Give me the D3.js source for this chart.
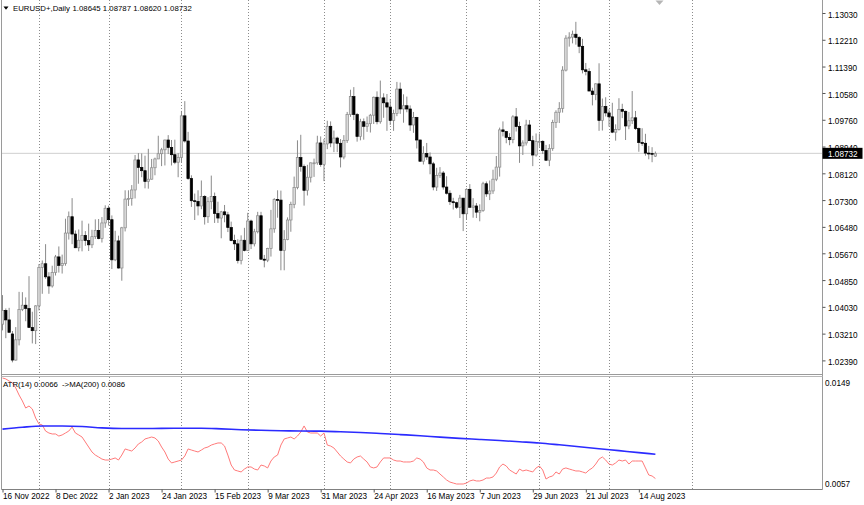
<!DOCTYPE html>
<html><head><meta charset="utf-8">
<script src="https://cdn.jsdelivr.net/npm/d3@7/dist/d3.min.js"></script>
<style>
body{margin:0;background:#fff}
svg{display:block}
text{font-family:"Liberation Sans",Arial,sans-serif;fill:#000}
</style>
</head><body>
<svg id="c" width="864" height="505"></svg>
<script>
// ---------------- DATA ----------------
const symbolTitle = "EURUSD+,Daily";
const lastQuote = ["1.08645", "1.08787", "1.08620", "1.08732"];
const bidPrice = 1.08732;

// daily bars, 16 Nov 2022 .. 21 Aug 2023 (one row per month)
const opens = [
  1.0350,1.0392,1.0363,1.0320,1.0240,1.0302,1.0395,1.0408,1.0398,1.0340,1.0330,
  1.0406,1.0524,1.0535,1.0495,1.0467,1.0508,1.0556,1.0530,1.0536,1.0629,1.0679,1.0626,1.0584,1.0607,1.0622,1.0606,1.0593,1.0618,1.0637,1.0612,1.0660,
  1.0705,1.0670,1.0547,1.0605,1.0522,1.0645,1.0733,1.0735,1.0761,1.0853,1.0830,1.0820,1.0787,1.0794,1.0829,1.0856,1.0872,1.0884,1.0914,1.0891,1.0869,1.0846,
  1.0861,1.0988,1.0911,1.0796,1.0728,1.0726,1.0712,1.0741,1.0679,1.0725,1.0741,1.0689,1.0675,1.0694,1.0685,1.0646,1.0606,1.0596,1.0545,1.0607,
  1.0576,1.0666,1.0596,1.0633,1.0682,1.0549,1.0546,1.0582,1.0642,1.0732,1.0730,1.0576,1.0609,1.0669,1.0717,1.0769,1.0860,1.0833,1.0760,1.0800,1.0844,1.0844,1.0905,
  1.0839,1.0902,1.0956,1.0905,1.0920,1.0904,1.0862,1.0913,1.0992,1.1047,1.0992,1.0925,1.0970,1.0956,1.0964,1.0990,1.1045,1.0970,1.1043,1.1028,
  1.1015,1.0974,1.0995,1.1070,1.1009,1.1019,1.1009,1.0960,1.0983,1.0914,1.0849,1.0873,1.0862,1.0841,1.0770,1.0805,1.0813,1.0770,1.0751,1.0725,1.0722,1.0708,1.0736,
  1.0688,1.0763,1.0708,1.0712,1.0693,1.0698,1.0780,1.0749,1.0758,1.0794,1.0831,1.0945,1.0940,1.0922,1.0915,1.0985,1.0955,1.0896,1.0905,1.0960,1.0912,1.0868,
  1.0910,1.0910,1.0882,1.0852,1.0888,1.0968,1.0999,1.1011,1.1128,1.1226,1.1229,1.1238,1.1228,1.1201,1.1129,1.1124,1.1064,1.1053,1.1086,1.0974,1.1017,
  1.0997,1.0985,1.0938,1.0946,1.1008,1.1002,1.0957,1.0973,1.0982,1.0949,1.0906,1.0904,1.0874,1.0873,1.08645
];
const highs = [
  1.0439,1.0398,1.0400,1.0329,1.0341,1.0449,1.0448,1.0432,1.0497,1.0388,1.0408,
  1.0534,1.0545,1.0595,1.0509,1.0529,1.0562,1.0588,1.0563,1.0673,1.0695,1.0736,1.0637,1.0640,1.0667,1.0635,1.0658,1.0639,1.0671,1.0672,1.0678,1.0714,
  1.0713,1.0683,1.0636,1.0621,1.0648,1.0760,1.0760,1.0776,1.0868,1.0874,1.0873,1.0866,1.0887,1.0856,1.0860,1.0927,1.0890,1.0915,1.0929,1.0914,1.0915,1.0874,
  1.1003,1.1033,1.0939,1.0806,1.0750,1.0760,1.0790,1.0745,1.0739,1.0805,1.0753,1.0725,1.0697,1.0715,1.0694,1.0664,1.0624,1.0610,1.0622,1.0645,
  1.0691,1.0670,1.0642,1.0694,1.0694,1.0562,1.0584,1.0700,1.0736,1.0760,1.0759,1.0638,1.0677,1.0725,1.0802,1.0913,1.0930,1.0839,1.0838,1.0845,1.0857,1.0927,1.0925,
  1.0917,1.0973,1.0971,1.0943,1.0924,1.0917,1.0929,1.1000,1.1068,1.1076,1.0997,1.0979,1.0980,1.0986,1.0994,1.1047,1.1063,1.1096,1.1057,1.1055,
  1.1040,1.1007,1.1092,1.1090,1.1054,1.1047,1.1020,1.1000,1.0985,1.0915,1.0895,1.0905,1.0876,1.0847,1.0829,1.0831,1.0819,1.0803,1.0760,1.0737,1.0725,1.0746,1.0736,
  1.0766,1.0779,1.0736,1.0721,1.0717,1.0786,1.0787,1.0790,1.0823,1.0865,1.0952,1.0971,1.0942,1.0935,1.0990,1.1012,1.0970,1.0913,1.0976,1.0975,1.0927,1.0934,
  1.0934,1.0913,1.0899,1.0901,1.0976,1.1005,1.1030,1.1140,1.1235,1.1244,1.1249,1.1276,1.1232,1.1224,1.1150,1.1134,1.1074,1.1088,1.1149,1.1041,1.1045,
  1.1008,1.1028,1.0962,1.1042,1.1025,1.1004,1.1000,1.1064,1.1003,1.0952,1.0950,1.0933,1.0896,1.0892,1.08787
];
const lows = [
  1.0331,1.0307,1.0326,1.0233,1.0238,1.0285,1.0390,1.0359,1.0339,1.0291,1.0289,
  1.0392,1.0443,1.0489,1.0443,1.0462,1.0499,1.0508,1.0505,1.0529,1.0609,1.0595,1.0583,1.0573,1.0573,1.0590,1.0574,1.0583,1.0611,1.0610,1.0600,1.0645,
  1.0652,1.0519,1.0543,1.0520,1.0483,1.0634,1.0712,1.0713,1.0735,1.0780,1.0800,1.0766,1.0765,1.0793,1.0806,1.0856,1.0834,1.0836,1.0871,1.0836,1.0840,1.0800,
  1.0845,1.0906,1.0792,1.0709,1.0669,1.0683,1.0702,1.0655,1.0660,1.0702,1.0660,1.0660,1.0613,1.0662,1.0632,1.0604,1.0577,1.0536,1.0533,1.0573,
  1.0574,1.0580,1.0588,1.0628,1.0547,1.0524,1.0540,1.0557,1.0630,1.0676,1.0515,1.0515,1.0607,1.0633,1.0705,1.0763,1.0817,1.0713,1.0744,1.0784,1.0801,1.0838,1.0832,
  1.0788,1.0886,1.0892,1.0877,1.0877,1.0830,1.0855,1.0905,1.0985,1.0975,1.0909,1.0913,1.0915,1.0939,1.0937,1.0963,1.0962,1.0964,1.0982,1.0942,
  1.0960,1.0942,1.0987,1.0994,1.0967,1.0999,1.0942,1.0936,1.0888,1.0848,1.0839,1.0853,1.0809,1.0760,1.0758,1.0798,1.0762,1.0747,1.0715,1.0701,1.0703,1.0675,1.0635,
  1.0671,1.0706,1.0676,1.0675,1.0665,1.0694,1.0740,1.0730,1.0749,1.0788,1.0802,1.0925,1.0904,1.0898,1.0904,1.0940,1.0844,1.0868,1.0897,1.0911,1.0834,1.0863,
  1.0893,1.0871,1.0851,1.0834,1.0881,1.0951,1.0966,1.0998,1.1124,1.1200,1.1210,1.1206,1.1180,1.1118,1.1112,1.1064,1.1020,1.1036,1.0942,1.0943,1.0986,
  1.0955,1.0935,1.0912,1.0943,1.0981,1.0914,1.0947,1.0963,1.0945,1.0878,1.0896,1.0866,1.0855,1.0846,1.08620
];
const closes = [
  1.0392,1.0363,1.0325,1.0240,1.0302,1.0395,1.0408,1.0398,1.0340,1.0330,1.0406,
  1.0524,1.0535,1.0495,1.0467,1.0508,1.0556,1.0530,1.0536,1.0629,1.0679,1.0626,1.0584,1.0607,1.0622,1.0606,1.0593,1.0618,1.0637,1.0612,1.0660,1.0705,
  1.0670,1.0547,1.0605,1.0522,1.0645,1.0733,1.0735,1.0761,1.0853,1.0830,1.0820,1.0787,1.0794,1.0829,1.0856,1.0872,1.0884,1.0914,1.0891,1.0869,1.0846,1.0861,
  1.0988,1.0911,1.0796,1.0728,1.0726,1.0712,1.0741,1.0679,1.0725,1.0741,1.0689,1.0675,1.0694,1.0685,1.0646,1.0606,1.0596,1.0545,1.0607,1.0576,
  1.0666,1.0596,1.0633,1.0682,1.0549,1.0546,1.0582,1.0642,1.0732,1.0730,1.0576,1.0609,1.0669,1.0717,1.0769,1.0860,1.0833,1.0760,1.0800,1.0844,1.0844,1.0905,1.0839,
  1.0902,1.0956,1.0905,1.0920,1.0904,1.0862,1.0913,1.0992,1.1047,1.0992,1.0925,1.0970,1.0956,1.0964,1.0990,1.1045,1.0970,1.1043,1.1028,1.1015,
  1.0974,1.0995,1.1070,1.1009,1.1019,1.1009,1.0960,1.0983,1.0914,1.0849,1.0873,1.0862,1.0841,1.0770,1.0805,1.0813,1.0770,1.0751,1.0725,1.0722,1.0708,1.0736,1.0688,
  1.0763,1.0708,1.0712,1.0693,1.0698,1.0780,1.0749,1.0758,1.0794,1.0831,1.0945,1.0940,1.0922,1.0915,1.0985,1.0955,1.0896,1.0905,1.0960,1.0912,1.0868,1.0910,
  1.0910,1.0882,1.0852,1.0888,1.0968,1.0999,1.1011,1.1128,1.1226,1.1229,1.1238,1.1228,1.1201,1.1129,1.1124,1.1064,1.1053,1.1086,1.0974,1.1017,1.0997,
  1.0985,1.0938,1.0946,1.1008,1.1002,1.0957,1.0973,1.0982,1.0949,1.0906,1.0904,1.0874,1.0873,1.0872,1.08732
];

// ATR(14), one value per bar
const atr14 = [
  0.01482,0.01474,0.01457,0.01441,0.01400,0.01342,0.01293,0.01235,0.01252,0.01227,0.01153,
  0.01104,0.01096,0.01046,0.01030,0.01022,0.01022,0.01005,0.01014,0.01030,0.01046,0.01079,0.01030,0.01014,0.00997,0.00956,0.00915,0.00874,0.00849,0.00833,0.00816,0.00808,
  0.00808,0.00816,0.00825,0.00808,0.00849,0.00899,0.00890,0.00882,0.00907,0.00940,0.00956,0.00981,0.00989,0.00997,0.00989,0.00964,0.00915,0.00874,0.00816,0.00784,0.00792,0.00800,
  0.00808,0.00841,0.00899,0.00890,0.00882,0.00874,0.00890,0.00907,0.00915,0.00931,0.00940,0.00948,0.00948,0.00923,0.00849,0.00767,0.00726,0.00718,0.00710,0.00734,
  0.00751,0.00751,0.00734,0.00726,0.00767,0.00759,0.00743,0.00800,0.00833,0.00849,0.00931,0.00981,0.00989,0.00997,0.00981,0.01005,0.01038,0.01088,0.01038,0.01030,0.01030,0.01030,0.01005,
  0.01030,0.00931,0.00923,0.00907,0.00874,0.00841,0.00816,0.00792,0.00784,0.00816,0.00833,0.00841,0.00816,0.00792,0.00751,0.00743,0.00751,0.00792,0.00825,0.00825,
  0.00825,0.00808,0.00800,0.00800,0.00792,0.00792,0.00792,0.00800,0.00825,0.00816,0.00792,0.00743,0.00726,0.00726,0.00718,0.00693,0.00669,0.00644,0.00627,0.00619,0.00611,0.00611,0.00611,
  0.00619,0.00636,0.00644,0.00636,0.00636,0.00644,0.00660,0.00660,0.00669,0.00701,0.00751,0.00775,0.00759,0.00726,0.00710,0.00693,0.00734,0.00718,0.00726,0.00718,0.00710,0.00743,
  0.00759,0.00726,0.00652,0.00669,0.00677,0.00710,0.00693,0.00734,0.00743,0.00734,0.00726,0.00718,0.00718,0.00710,0.00701,0.00726,0.00743,0.00775,0.00816,0.00833,0.00808,
  0.00775,0.00767,0.00784,0.00808,0.00800,0.00808,0.00775,0.00800,0.00800,0.00800,0.00800,0.00743,0.00685,0.00677,0.00656
];

// MA(200) of ATR, read every 6 bars
const maBars = [0,6,12,18,24,30,36,42,48,54,60,66,72,78,84,90,96,102,108,114,120,126,132,138,144,150,156,162,168,174,180,186,192,197];
const ma200  = [0.01062,0.01077,0.01087,0.01087,0.01083,0.01072,0.01067,0.01067,0.01068,0.01069,0.01069,0.01064,0.01057,0.01052,0.01049,0.01046,0.01045,
                0.01040,0.01034,0.01026,0.01017,0.01008,0.00996,0.00986,0.00977,0.00968,0.00958,0.00948,0.00933,0.00917,0.00901,0.00885,0.00869,0.00856];

const priceTicks = [1.13030,1.12210,1.11390,1.10580,1.09760,1.08940,1.08120,1.07300,1.06480,1.05670,1.04850,1.04030,1.03210,1.02390];
const atrScale = [0.0057, 0.0149];
const dateLabels = ["16 Nov 2022","8 Dec 2022","2 Jan 2023","24 Jan 2023","15 Feb 2023","9 Mar 2023","31 Mar 2023",
                    "24 Apr 2023","16 May 2023","7 Jun 2023","29 Jun 2023","21 Jul 2023","14 Aug 2023"];
const dateLabelBars = [0,16,32,48,64,80,96,112,128,144,160,176,192];
// month-start bars (1 Dec ... 1 Aug, and 1 Sep in the empty future area)
const monthStartBars = [11,32,54,74,97,117,140,162,183,208];

// ---------------- LAYOUT ----------------
const svg = d3.select("#c");
const plotL = 1.5, plotR = 822.5;
const mainTop = 0, mainBot = 375, subTop = 377, subBot = 489.5;
const n = closes.length;

const x = d3.scaleLinear().domain([0, n - 1]).range([2.5, 655.4]);
const y = d3.scaleLinear().domain([1.02390, 1.13030]).range([360.4, 13.0]);
const ys = d3.scaleLinear().domain(atrScale).range([489, 377]);

svg.append("rect").attr("width", 864).attr("height", 505).attr("fill", "#fff");

// vertical dotted grid
const grid = svg.append("g").attr("stroke", "#8c8c8c").attr("stroke-width", 1).attr("stroke-dasharray", "1,2");
monthStartBars.forEach(b => {
  const gx = Math.round(x(b)) + 0.5;
  grid.append("line").attr("x1", gx).attr("x2", gx).attr("y1", mainTop).attr("y2", mainBot);
  grid.append("line").attr("x1", gx).attr("x2", gx).attr("y1", subTop).attr("y2", subBot);
});

// bid line
svg.append("line").attr("x1", plotL).attr("x2", plotR)
  .attr("y1", y(bidPrice)).attr("y2", y(bidPrice))
  .attr("stroke", "#cfcfcf").attr("stroke-width", 1);

// candles
const idx = d3.range(n);
const cg = svg.append("g");
cg.selectAll("line.wick").data(idx).join("line").attr("class", "wick")
  .attr("x1", i => x(i)).attr("x2", i => x(i))
  .attr("y1", i => y(highs[i])).attr("y2", i => y(lows[i]))
  .attr("stroke", "#8a8a8a").attr("stroke-width", 1);
const bw = 2.4;
cg.selectAll("rect.body").data(idx).join("rect").attr("class", "body")
  .attr("x", i => x(i) - bw / 2).attr("width", bw)
  .attr("y", i => Math.min(y(opens[i]), y(closes[i])))
  .attr("height", i => Math.max(0.9, Math.abs(y(opens[i]) - y(closes[i]))))
  .attr("fill", i => closes[i] >= opens[i] ? "#dadada" : "#000")
  .attr("stroke", i => closes[i] >= opens[i] ? "#8a8a8a" : "#000")
  .attr("stroke-width", 0.7);

// frames
const frame = svg.append("g").attr("stroke", "#9a9a9a").attr("stroke-width", 1).attr("fill", "none");
frame.append("line").attr("x1", plotL).attr("x2", plotL).attr("y1", 0).attr("y2", subBot);
frame.append("line").attr("x1", plotR).attr("x2", plotR).attr("y1", 0).attr("y2", subBot);
frame.append("line").attr("x1", plotL).attr("x2", plotR).attr("y1", 374.5).attr("y2", 374.5);
frame.append("line").attr("x1", plotL).attr("x2", plotR).attr("y1", 376.5).attr("y2", 376.5).attr("stroke", "#b8b8b8");
frame.append("line").attr("x1", plotL).attr("x2", plotR).attr("y1", subBot).attr("y2", subBot).attr("stroke", "#808080");

// price axis (right)
const fs = 8.2;
const pa = svg.append("g").attr("transform", `translate(${plotR},0)`)
  .call(d3.axisRight(y).tickValues(priceTicks).tickSize(3).tickPadding(2.5).tickFormat(d3.format(".5f")));
pa.select(".domain").remove();
pa.selectAll("line").attr("stroke", "#555");
pa.selectAll("text").attr("font-size", fs).attr("font-family", "Liberation Sans, Arial, sans-serif").attr("dy", "0.5em");

// current price box
svg.append("rect").attr("x", plotR).attr("y", y(bidPrice) - 5.5).attr("width", 40).attr("height", 11).attr("fill", "#000");
svg.append("text").attr("x", 828).attr("y", y(bidPrice) + 3.2).attr("font-size", fs)
  .style("fill", "#fff").text(d3.format(".5f")(bidPrice));

// date axis (bottom)
const da = svg.append("g").attr("transform", `translate(0,${subBot})`)
  .call(d3.axisBottom(x).tickValues(dateLabelBars).tickSize(3).tickFormat((d, i) => dateLabels[i]));
da.select(".domain").remove();
da.selectAll("line").attr("stroke", "#555");
da.selectAll("text").attr("font-size", fs).attr("font-family", "Liberation Sans, Arial, sans-serif")
  .attr("text-anchor", "start").attr("dy", 0).attr("y", 9);

// ATR sub window lines
svg.append("path").datum(idx)
  .attr("d", d3.line().x(i => x(i)).y(i => ys(atr14[i])))
  .attr("fill", "none").attr("stroke", "#ff7a7a").attr("stroke-width", 1);
svg.append("path").datum(d3.range(maBars.length))
  .attr("d", d3.line().curve(d3.curveMonotoneX).x(k => x(maBars[k])).y(k => ys(ma200[k])))
  .attr("fill", "none").attr("stroke", "#2b2bff").attr("stroke-width", 1.6);

// sub window scale labels
svg.append("text").attr("x", 825).attr("y", ys(atrScale[1]) + 9).attr("font-size", fs).text(d3.format(".4f")(atrScale[1]));
svg.append("text").attr("x", 825).attr("y", ys(atrScale[0]) - 2).attr("font-size", fs).text(d3.format(".4f")(atrScale[0]));

// titles
svg.append("path").attr("d", "M3.5,6.5 L8.5,6.5 L6,9.8 Z").attr("fill", "#000");
svg.append("text").attr("x", 13).attr("y", 11).attr("font-size", 7.8).text(symbolTitle);
svg.append("text").attr("x", 72.5).attr("y", 11).attr("font-size", 7.8).text(lastQuote.join(" "));
svg.append("text").attr("x", 3).attr("y", 387).attr("font-size", 7.8)
  .text(`ATR(14) ${d3.format(".4f")(atr14[n - 1])}`);
svg.append("text").attr("x", 62).attr("y", 387).attr("font-size", 7.8)
  .text(`->MA(200) ${d3.format(".4f")(ma200[ma200.length - 1])}`);

// chart shift marker
svg.append("path").attr("d", "M655.5,0.5 L663.5,0.5 L659.5,5 Z").attr("fill", "#b5b5b5");
</script>
</body></html>
